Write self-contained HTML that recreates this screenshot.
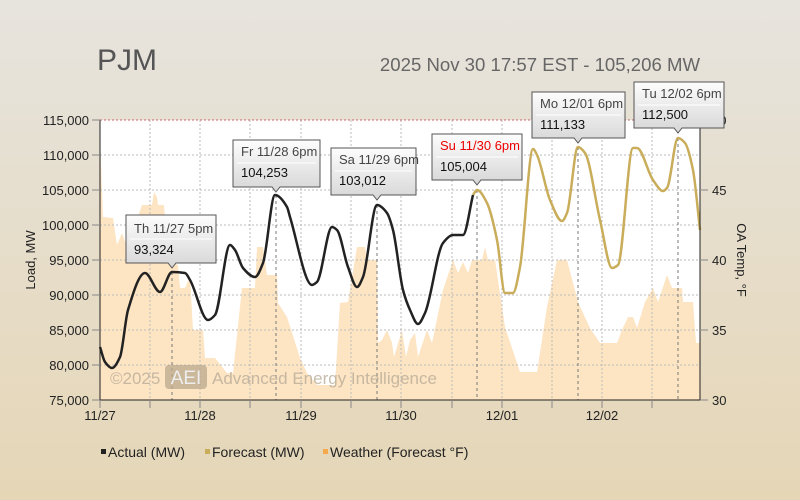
<!DOCTYPE html>
<html><head><style>
html,body{margin:0;padding:0;width:800px;height:500px;overflow:hidden}
body{background:linear-gradient(#e7e4de,#e5d6b6);font-family:"Liberation Sans","DejaVu Sans",sans-serif}
svg{display:block}
</style></head><body>
<svg width="800" height="500" xmlns="http://www.w3.org/2000/svg" font-family="Liberation Sans, DejaVu Sans, sans-serif">
<defs>
<linearGradient id="tg" x1="0" y1="0" x2="0" y2="1"><stop offset="0" stop-color="#fdfdfd"/><stop offset="1" stop-color="#d6d6d6"/></linearGradient>
</defs>
<text x="97" y="70" font-size="30" fill="#555">PJM</text>
<text x="700" y="71" font-size="18.6" fill="#666" text-anchor="end">2025 Nov 30 17:57 EST - 105,206 MW</text>
<rect x="100" y="120" width="600" height="280" fill="#fff"/>
<polygon fill="#fde4c2" points="100,400 100,137 103,217 113,218 117,245 122,233 127,247 130,240 142,205 152,205 154,192 157,197 158,205 164,205 168,260 178,265 180,288 185,288 190,277 193,330 203,330 205,358 215,358 227,373 233,373 242,288 255,288 257,247 263,247 267,275 277,275 278,303 287,317 300,358 307,373 317,385 335,385 340,303 348,302 357,247 365,247 367,260 377,260 378,343 382,340 387,330 392,343 394,357 402,330 406,357 410,340 415,333 418,357 427,330 432,343 443,290 453,260 458,273 463,262 468,273 472,260 482,260 485,247 488,260 495,260 505,327 520,372 537,372 547,307 557,260 567,260 578,302 590,328 600,343 617,343 622,330 628,317 633,317 637,328 645,302 653,288 658,302 667,275 672,288 682,288 683,302 693,302 696,343 700,343 700,400"/>
<g stroke="#bbb" stroke-dasharray="2,2" stroke-width="1">
<line x1="100" y1="155" x2="700" y2="155"/><line x1="100" y1="190" x2="700" y2="190"/><line x1="100" y1="225" x2="700" y2="225"/><line x1="100" y1="260" x2="700" y2="260"/><line x1="100" y1="295" x2="700" y2="295"/><line x1="100" y1="330" x2="700" y2="330"/><line x1="100" y1="365" x2="700" y2="365"/>
<line x1="150" y1="120" x2="150" y2="400"/><line x1="200" y1="120" x2="200" y2="400"/><line x1="250" y1="120" x2="250" y2="400"/><line x1="301" y1="120" x2="301" y2="400"/><line x1="351" y1="120" x2="351" y2="400"/><line x1="401" y1="120" x2="401" y2="400"/><line x1="452" y1="120" x2="452" y2="400"/><line x1="502" y1="120" x2="502" y2="400"/><line x1="552" y1="120" x2="552" y2="400"/><line x1="602" y1="120" x2="602" y2="400"/><line x1="652" y1="120" x2="652" y2="400"/>
</g>
<g stroke="#777" stroke-dasharray="3,3" stroke-width="1">
<line x1="172" y1="272" x2="172" y2="400"/><line x1="276" y1="195" x2="276" y2="400"/><line x1="377" y1="205" x2="377" y2="400"/><line x1="477" y1="190" x2="477" y2="400"/><line x1="578" y1="147" x2="578" y2="400"/><line x1="678" y1="138" x2="678" y2="400"/>
</g>
<line x1="100" y1="120" x2="700" y2="120" stroke="#c66" stroke-dasharray="2,2"/>
<text x="110" y="384" font-size="17" fill="#b9ad9a" opacity="0.8">©2025</text>
<rect x="165" y="365" width="42" height="24" rx="4" fill="#b9a88c" opacity="0.75"/>
<text x="186" y="384" font-size="19" fill="#eee" text-anchor="middle">AEI</text>
<text x="212" y="384" font-size="17" fill="#b9ad9a" opacity="0.8">Advanced Energy Intelligence</text>
<path id="fc" fill="none" stroke="#c9ad5a" stroke-width="2.5" stroke-linejoin="round" data-p="473,195 477,190 487,203 497,240 505,293 513,293 520,267 533,149 537,155 550,200 562,221 567,213 578,147 585,153 600,220 612,268 618,265 633,148 637,148 653,180 663,191 667,188 678,138 685,143 693,170 700,230"/>
<path id="ac" fill="none" stroke="#222" stroke-width="2.5" stroke-linejoin="round" data-p="100,347 105,362 112,368 120,357 128,310 145,273 160,292 172,272 185,273 190,280 208,320 215,315 230,245 235,250 243,268 255,277 263,263 275,195 287,207 290,217 312,285 317,282 332,227 337,230 348,267 357,287 363,277 377,205 387,213 393,230 403,290 410,310 418,324 425,313 443,243 453,235 463,235 473,195"/>
<line x1="100" y1="120" x2="100" y2="400" stroke="#222"/>
<line x1="700" y1="120" x2="700" y2="400" stroke="#222"/>
<line x1="100" y1="400" x2="700" y2="400" stroke="#222"/>
<g stroke="#888">
<line x1="92" y1="120" x2="100" y2="120"/><line x1="92" y1="155" x2="100" y2="155"/><line x1="92" y1="190" x2="100" y2="190"/><line x1="92" y1="225" x2="100" y2="225"/><line x1="92" y1="260" x2="100" y2="260"/><line x1="92" y1="295" x2="100" y2="295"/><line x1="92" y1="330" x2="100" y2="330"/><line x1="92" y1="365" x2="100" y2="365"/><line x1="92" y1="400" x2="100" y2="400"/>
<line x1="700" y1="190" x2="708" y2="190"/><line x1="700" y1="260" x2="708" y2="260"/><line x1="700" y1="330" x2="708" y2="330"/><line x1="700" y1="400" x2="708" y2="400"/>
<line x1="100" y1="400" x2="100" y2="408"/><line x1="150" y1="400" x2="150" y2="408"/><line x1="200" y1="400" x2="200" y2="408"/><line x1="250" y1="400" x2="250" y2="408"/><line x1="301" y1="400" x2="301" y2="408"/><line x1="351" y1="400" x2="351" y2="408"/><line x1="401" y1="400" x2="401" y2="408"/><line x1="452" y1="400" x2="452" y2="408"/><line x1="502" y1="400" x2="502" y2="408"/><line x1="552" y1="400" x2="552" y2="408"/><line x1="602" y1="400" x2="602" y2="408"/><line x1="652" y1="400" x2="652" y2="408"/>
</g>
<g font-size="13" fill="#222" text-anchor="end">
<text x="89" y="125">115,000</text><text x="89" y="160">110,000</text><text x="89" y="195">105,000</text><text x="89" y="230">100,000</text><text x="89" y="265">95,000</text><text x="89" y="300">90,000</text><text x="89" y="335">85,000</text><text x="89" y="370">80,000</text><text x="89" y="405">75,000</text>
</g>
<g font-size="13" fill="#222">
<text x="712" y="125">50</text><text x="712" y="195">45</text><text x="712" y="265">40</text><text x="712" y="335">35</text><text x="712" y="405">30</text>
</g>
<g font-size="13" fill="#222" text-anchor="middle">
<text x="100" y="420">11/27</text><text x="200" y="420">11/28</text><text x="301" y="420">11/29</text><text x="401" y="420">11/30</text><text x="502" y="420">12/01</text><text x="602" y="420">12/02</text>
</g>
<text transform="translate(35,260) rotate(-90)" font-size="13" fill="#222" text-anchor="middle">Load, MW</text>
<text transform="translate(737,260) rotate(90)" font-size="13" fill="#222" text-anchor="middle">OA Temp, °F</text>
<g font-size="14" fill="#222">
<rect x="101" y="449" width="5" height="5" fill="#222"/><text x="108" y="457">Actual (MW)</text>
<rect x="205" y="449" width="5" height="5" fill="#c9ad5a"/><text x="212" y="457">Forecast (MW)</text>
<rect x="323" y="449" width="5" height="5" fill="#f5a94b"/><text x="330" y="457">Weather (Forecast °F)</text>
</g>
<g font-size="13" stroke-width="1">
<g><path d="M126,215 h90 v48 h-40 l-4,5 l-4,-5 h-42 z" fill="url(#tg)" stroke="#555"/><line x1="130" y1="239" x2="212" y2="239" stroke="#fff"/><text x="134" y="233" fill="#444">Th 11/27 5pm</text><text x="134" y="254" fill="#111">93,324</text></g>
<g><path d="M233,140 h87 v47 h-40 l-4,5 l-4,-5 h-39 z" fill="url(#tg)" stroke="#555"/><line x1="237" y1="163" x2="316" y2="163" stroke="#fff"/><text x="241" y="156" fill="#444">Fr 11/28 6pm</text><text x="241" y="177" fill="#111">104,253</text></g>
<g><path d="M331,148 h85 v47 h-35 l-4,5 l-4,-5 h-42 z" fill="url(#tg)" stroke="#555"/><line x1="335" y1="171" x2="412" y2="171" stroke="#fff"/><text x="339" y="164" fill="#444">Sa 11/29 6pm</text><text x="339" y="185" fill="#111">103,012</text></g>
<g><path d="M432,134 h90 v46 h-41 l-4,5 l-4,-5 h-41 z" fill="url(#tg)" stroke="#555"/><line x1="436" y1="157" x2="518" y2="157" stroke="#fff"/><text x="440" y="150" fill="#e00">Su 11/30 6pm</text><text x="440" y="171" fill="#111">105,004</text></g>
<g><path d="M532,92 h93 v46 h-43 l-4,5 l-4,-5 h-42 z" fill="url(#tg)" stroke="#555"/><line x1="536" y1="115" x2="621" y2="115" stroke="#fff"/><text x="540" y="108" fill="#444">Mo 12/01 6pm</text><text x="540" y="129" fill="#111">111,133</text></g>
<g><path d="M634,82 h90 v46 h-42 l-4,5 l-4,-5 h-40 z" fill="url(#tg)" stroke="#555"/><line x1="638" y1="105" x2="720" y2="105" stroke="#fff"/><text x="642" y="98" fill="#444">Tu 12/02 6pm</text><text x="642" y="119" fill="#111">112,500</text></g>
</g>
</svg>
<script>
['fc','ac'].forEach(function(id){
var el=document.getElementById(id);
var p=el.getAttribute('data-p').split(' ').map(function(s){return s.split(',').map(Number);});
var n=p.length,dl=[],m=[];
for(var i=0;i<n-1;i++)dl.push((p[i+1][1]-p[i][1])/(p[i+1][0]-p[i][0]));
m[0]=dl[0];m[n-1]=dl[n-2];
for(var i=1;i<n-1;i++){
if(dl[i-1]*dl[i]<=0)m[i]=0;
else{var h0=p[i][0]-p[i-1][0],h1=p[i+1][0]-p[i][0];var w1=2*h1+h0,w2=h1+2*h0;m[i]=(w1+w2)/(w1/dl[i-1]+w2/dl[i]);}
}
var d='M'+p[0][0]+','+p[0][1];
for(var i=0;i<n-1;i++){
var h=(p[i+1][0]-p[i][0])/3;
d+=' C'+(p[i][0]+h).toFixed(1)+','+(p[i][1]+m[i]*h).toFixed(1)+' '+(p[i+1][0]-h).toFixed(1)+','+(p[i+1][1]-m[i+1]*h).toFixed(1)+' '+p[i+1][0]+','+p[i+1][1];
}
el.setAttribute('d',d);
el.removeAttribute('data-p');
});
</script>
</body></html>
